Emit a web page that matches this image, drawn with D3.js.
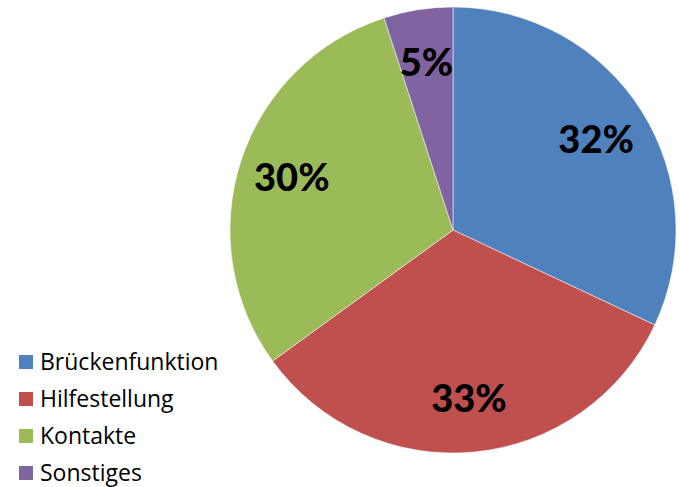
<!DOCTYPE html>
<html>
<head>
<meta charset="utf-8">
<script src="https://cdn.jsdelivr.net/npm/d3@7"></script>
<style>
  body { margin: 0; background: #fff; }
  svg { display: block; }
</style>
</head>
<body>
<script>
var categories = ["Brückenfunktion", "Hilfestellung", "Kontakte", "Sonstiges"];
var values = [32, 33, 30, 5];
var labels = ["32%", "33%", "30%", "5%"];
var colors = ["#4F81BD", "#C0504D", "#9BBB59", "#8064A2"];

var width = 680, height = 487;
var cx = 453, cy = 230, radius = 223;

var svg = d3.select("body").append("svg")
    .attr("width", width)
    .attr("height", height);

var pie = d3.pie().sort(null).value(function (d) { return d; });
var arcs = pie(values);

var arc = d3.arc().innerRadius(0).outerRadius(radius);
var labelArc = d3.arc().innerRadius(radius * 0.76).outerRadius(radius * 0.76);

var g = svg.append("g").attr("transform", "translate(" + cx + "," + cy + ")");

g.selectAll("path.slice")
    .data(arcs)
    .enter()
    .append("path")
    .attr("class", "slice")
    .attr("d", arc)
    .attr("fill", function (d, i) { return colors[i]; })
    .attr("stroke", "#ffffff")
    .attr("stroke-opacity", 0.5)
    .attr("stroke-width", 1);

g.selectAll("text.lbl")
    .data(arcs)
    .enter()
    .append("text")
    .attr("class", "lbl")
    .attr("transform", function (d) { return "translate(" + labelArc.centroid(d) + ")"; })
    .attr("text-anchor", "middle")
    .attr("dy", "0.36em")
    .style("font-family", "Lato, 'Open Sans', sans-serif")
    .style("font-weight", "900")
    .style("font-size", "38px")
    .attr("fill", "#000")
    .text(function (d, i) { return labels[i]; });

// legend
var legend = svg.append("g").attr("transform", "translate(19,355)");
var rows = legend.selectAll("g.row")
    .data(categories)
    .enter()
    .append("g")
    .attr("class", "row")
    .attr("transform", function (d, i) { return "translate(0," + (i * 37) + ")"; });

rows.append("rect")
    .attr("width", 14)
    .attr("height", 14)
    .attr("fill", function (d, i) { return colors[i]; });

rows.append("text")
    .attr("x", 21)
    .attr("y", 7)
    .attr("dy", "0.36em")
    .style("font-family", "'Open Sans', sans-serif")
    .style("font-size", "23px")
    .attr("fill", "#000")
    .text(function (d) { return d; });
</script>
</body>
</html>
